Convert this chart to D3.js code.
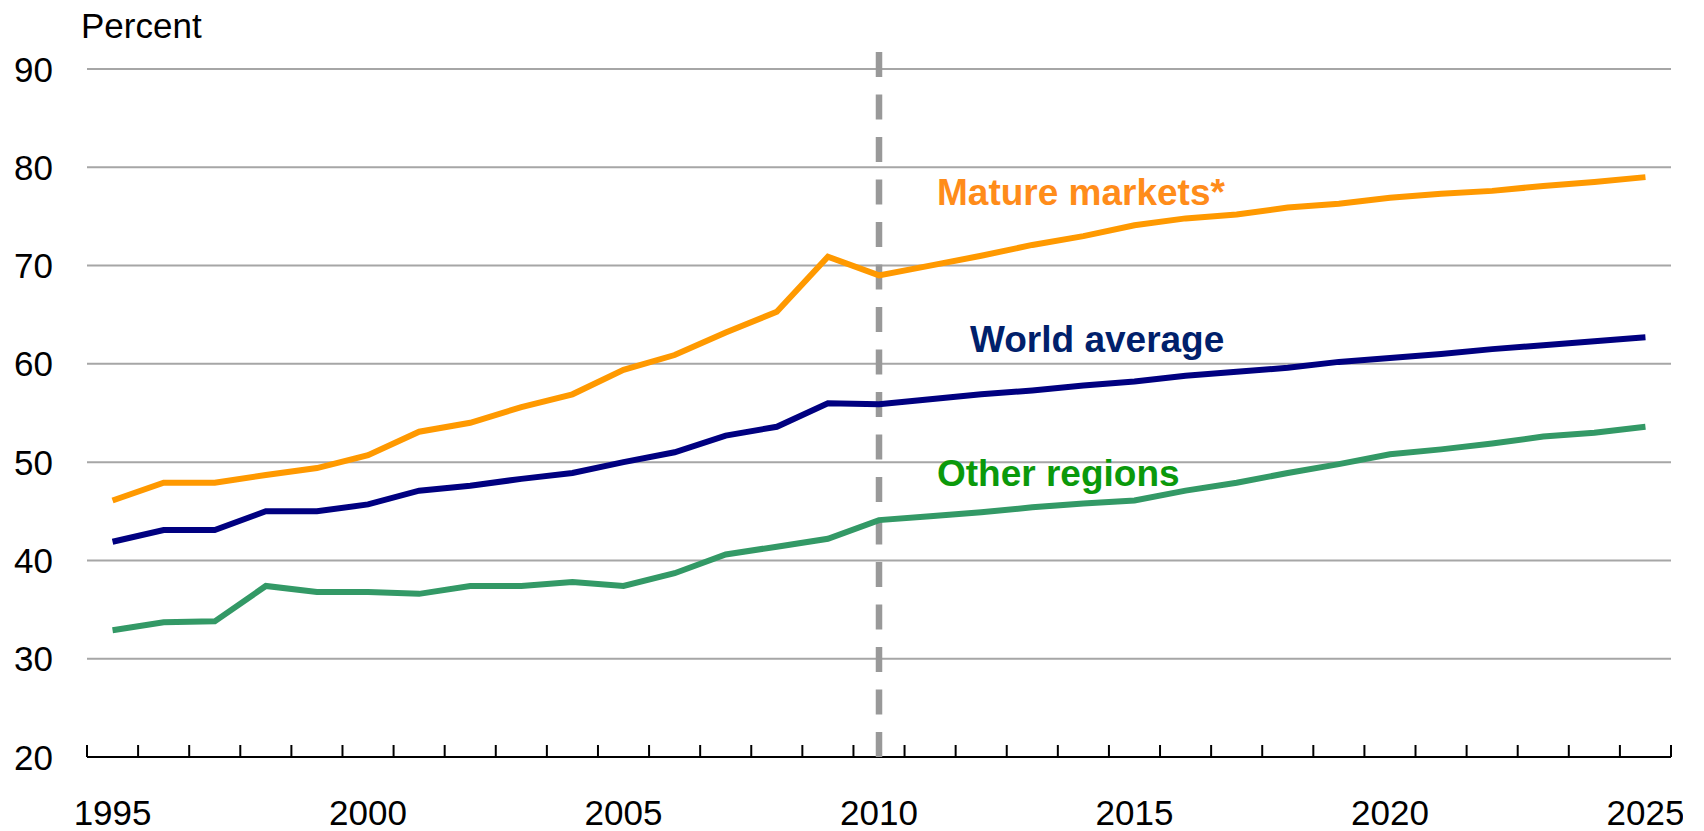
<!DOCTYPE html>
<html>
<head>
<meta charset="utf-8">
<script src="https://cdn.jsdelivr.net/npm/d3@7"></script>
<style>
  body { margin: 0; background: #fff; }
  text { font-family: "Liberation Sans", Arial, sans-serif; }
</style>
</head>
<body>
<script>
var years = d3.range(1995, 2026);
var labelYears = [1995, 2000, 2005, 2010, 2015, 2020, 2025];
var yTicks = [20, 30, 40, 50, 60, 70, 80, 90];

var mature = [46.1, 47.9, 47.9, 48.7, 49.4, 50.7, 53.1, 54.0, 55.6, 56.9,
              59.4, 60.9, 63.2, 65.3, 70.9, 69.0, 70.0, 71.0, 72.1, 73.0,
              74.1, 74.8, 75.2, 75.9, 76.3, 76.9, 77.3, 77.6, 78.1, 78.5, 79.0];
var world = [41.9, 43.1, 43.1, 45.0, 45.0, 45.7, 47.1, 47.6, 48.3, 48.9,
             50.0, 51.0, 52.7, 53.6, 56.0, 55.9, 56.4, 56.9, 57.3, 57.8,
             58.2, 58.8, 59.2, 59.6, 60.2, 60.6, 61.0, 61.5, 61.9, 62.3, 62.7];
var other = [32.9, 33.7, 33.8, 37.4, 36.8, 36.8, 36.6, 37.4, 37.4, 37.8,
             37.4, 38.7, 40.6, 41.4, 42.2, 44.1, 44.5, 44.9, 45.4, 45.8,
             46.1, 47.1, 47.9, 48.9, 49.8, 50.8, 51.3, 51.9, 52.6, 53.0, 53.6];

var svg = d3.select("body").append("svg")
    .attr("width", 1683)
    .attr("height", 831);

var margin = {left: 87, right: 33, top: 69, bottom: 74};
var width = 1704 - margin.left - margin.right;
var height = 831 - margin.top - margin.bottom;

var x = d3.scaleBand().domain(years).range([0, width]);
var y = d3.scaleLinear().domain([20, 90]).range([height, 0]);

var g = svg.append("g")
    .attr("transform", "translate(" + margin.left + "," + margin.top + ")");

// gridlines
g.selectAll(".grid")
  .data(yTicks.filter(function(d) { return d > 20; }))
  .enter().append("line")
    .attr("x1", 0).attr("x2", width)
    .attr("y1", function(d) { return y(d); })
    .attr("y2", function(d) { return y(d); })
    .style("stroke", "#a6a6a6")
    .style("stroke-width", 2);

// y labels
g.selectAll(".ylab")
  .data(yTicks)
  .enter().append("text")
    .attr("x", -34)
    .attr("y", function(d) { return y(d) + 12.5; })
    .attr("text-anchor", "end")
    .style("font-size", "35px")
    .text(function(d) { return d; });

svg.append("text")
    .attr("x", 81)
    .attr("y", 38)
    .style("font-size", "35px")
    .text("Percent");

// x axis
g.append("line")
    .attr("x1", 0).attr("x2", width)
    .attr("y1", height).attr("y2", height)
    .style("stroke", "#000")
    .style("stroke-width", 2);

var boundaries = years.map(function(d) { return x(d); }).concat([width]);
g.selectAll(".xtick")
  .data(boundaries)
  .enter().append("line")
    .attr("x1", function(d) { return d; })
    .attr("x2", function(d) { return d; })
    .attr("y1", height).attr("y2", height - 12)
    .style("stroke", "#000")
    .style("stroke-width", 2);

g.selectAll(".xlab")
  .data(labelYears)
  .enter().append("text")
    .attr("x", function(d) { return x(d) + x.bandwidth() / 2; })
    .attr("y", height + 68)
    .attr("text-anchor", "middle")
    .style("font-size", "35px")
    .text(function(d) { return d; });

// dashed marker at 2010
var x2010 = x(2010) + x.bandwidth() / 2;
g.append("line")
    .attr("x1", x2010).attr("x2", x2010)
    .attr("y1", height).attr("y2", -17)
    .style("stroke", "#999999")
    .style("stroke-width", 6.5)
    .style("stroke-dasharray", "25,17.5");

var series = [
  {name: "Mature markets*", values: mature, line: "#ff9900", text: "#ff8c1a", lx: 937, ly: 205},
  {name: "World average", values: world, line: "#000080", text: "#00206b", lx: 970, ly: 352},
  {name: "Other regions", values: other, line: "#339966", text: "#0b990b", lx: 937, ly: 486}
];

var line = d3.line()
    .x(function(d, i) { return x(years[i]) + x.bandwidth() / 2; })
    .y(function(d) { return y(d); });

series.forEach(function(s) {
  g.append("path")
    .datum(s.values)
    .attr("d", line)
    .style("fill", "none")
    .style("stroke", s.line)
    .style("stroke-width", 6);

  svg.append("text")
    .attr("x", s.lx)
    .attr("y", s.ly)
    .style("font-size", "37px")
    .style("font-weight", "bold")
    .style("fill", s.text)
    .text(s.name);
});
</script>
</body>
</html>
